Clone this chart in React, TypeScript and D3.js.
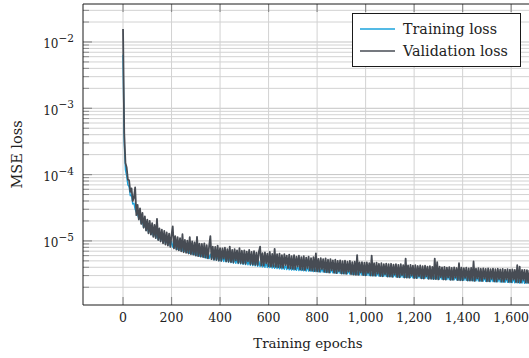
import * as d3 from 'd3';

// losses, in units of 1e-6, one value every 5 epochs
const lossUnit = 1e-6;
const epochStep = 5;

const validationLoss = [
    15700, 420, 150, 128, 84, 82, 55, 62, 40, 45,
    64, 24.5, 35, 21, 31, 18, 26.5, 15.8, 23.5, 14.3,
    21, 13, 20, 12.4, 18.6, 11.5, 17.5, 11, 21.5, 10.3,
    15.5, 9.8, 14.8, 9.2, 14.2, 8.8, 13.4, 8.5, 12.9, 8.1,
    12.4, 16.5, 7.7, 11.8, 7.4, 11.4, 7.2, 11, 6.95, 12.6,
    6.75, 10.4, 6.6, 10.1, 6.45, 11.4, 6.3, 9.8, 6.2, 9.5,
    6, 11.5, 5.9, 9.1, 5.8, 9, 5.7, 9.2, 5.6, 8.6,
    5.45, 8.4, 11.8, 5.3, 8.2, 5.2, 8.1, 5.15, 8.5, 5.05,
    7.8, 5, 7.7, 5.4, 7.9, 4.9, 7.5, 4.85, 8.2, 4.8,
    7.3, 4.72, 7.5, 5.1, 7.2, 4.65, 7.8, 4.6, 7.1, 4.55,
    7.2, 4.5, 6.9, 4.9, 7.3, 4.45, 6.8, 4.4, 7, 4.35,
    6.65, 4.3, 6.9, 8.2, 4.25, 6.55, 4.22, 6.7, 4.6, 6.45,
    4.14, 6.8, 4.1, 6.35, 4.08, 7.6, 4.05, 6.3, 4, 6.45,
    3.96, 6.1, 3.93, 6.3, 4.3, 6, 3.88, 6.2, 3.83, 5.9,
    3.77, 6.1, 3.74, 5.8, 4.1, 6, 3.7, 5.7, 3.66, 5.9,
    3.63, 5.6, 3.9, 5.8, 3.58, 5.5, 3.55, 5.7, 3.5, 6.5,
    3.48, 5.35, 3.45, 5.5, 3.75, 5.3, 3.4, 5.45, 3.37, 5.2,
    3.33, 5.3, 3.6, 5.1, 3.3, 5.2, 3.27, 5, 3.5, 5.1,
    3.22, 4.95, 3.2, 5.05, 3.18, 4.85, 3.45, 5, 3.14, 4.8,
    3.1, 4.85, 3.08, 6.1, 3.07, 4.75, 3.35, 4.8, 3.05, 4.7,
    3.03, 4.75, 3.3, 4.62, 3.01, 6, 2.99, 4.6, 2.98, 4.7,
    3.2, 4.52, 2.95, 4.6, 2.93, 4.48, 3.15, 4.55, 2.9, 4.45,
    2.89, 4.52, 2.87, 4.4, 3.1, 4.48, 2.85, 4.36, 2.83, 4.45,
    3.05, 4.3, 2.8, 5.4, 2.79, 4.28, 2.78, 4.35, 3, 4.25,
    2.75, 4.3, 2.74, 4.18, 2.95, 4.26, 2.72, 4.15, 2.7, 4.22,
    2.92, 4.1, 2.68, 4.17, 2.67, 4.05, 2.66, 5.4, 2.65, 4.8,
    2.63, 4.08, 2.85, 3.98, 2.62, 4.05, 2.61, 3.95, 2.82, 4.02,
    2.59, 3.92, 2.58, 4, 2.8, 3.9, 2.56, 4.6, 2.55, 3.95,
    2.55, 3.88, 2.76, 3.94, 2.53, 3.85, 2.52, 3.92, 2.51, 4.9,
    2.5, 3.82, 2.72, 3.87, 2.49, 3.8, 2.48, 3.86, 2.7, 3.78,
    2.46, 3.84, 2.45, 3.76, 2.68, 3.82, 2.44, 3.74, 2.43, 3.8,
    2.65, 3.72, 2.42, 3.77, 2.41, 3.7, 2.62, 3.75, 2.4, 3.68,
    2.39, 3.72, 2.6, 3.66, 2.38, 4.3, 2.37, 4.1, 2.36, 3.64,
    2.58, 3.66, 2.35, 3.62, 2.34, 3.64,
];

const trainingLoss = [
    6400, 310, 118, 96, 70, 66, 48, 49, 36, 37,
    30, 27, 25, 22, 22.5, 18.5, 20, 16, 18, 14.5,
    16.5, 13.4, 15.5, 12.5, 14.5, 11.8, 13.6, 11, 12.8, 10.5,
    12.2, 10, 11.6, 9.5, 11, 9.1, 10.5, 8.7, 10.1, 8.4,
    9.8, 8.1, 9.4, 7.8, 9, 7.5, 8.7, 7.3, 8.5, 7.1,
    8.2, 6.9, 8, 6.7, 7.8, 6.5, 7.6, 6.3, 7.4, 6.2,
    7.2, 6, 7, 5.9, 6.9, 5.8, 6.7, 5.6, 6.6, 5.5,
    6.4, 5.4, 6.3, 5.3, 6.2, 5.2, 6.1, 5.1, 6, 5,
    5.9, 4.95, 5.8, 4.9, 5.75, 4.85, 5.7, 4.8, 5.6, 4.7,
    5.5, 4.65, 5.45, 4.6, 5.4, 4.55, 5.35, 4.5, 5.3, 4.45,
    5.2, 4.4, 5.15, 4.35, 5.1, 4.3, 5.05, 4.25, 5, 4.2,
    4.95, 4.15, 4.9, 4.1, 4.85, 4.05, 4.8, 4, 4.75, 3.98,
    4.7, 3.95, 4.65, 3.9, 4.6, 3.87, 4.55, 3.84, 4.5, 3.8,
    4.45, 3.77, 4.4, 3.74, 4.35, 3.7, 4.3, 3.67, 4.25, 3.64,
    4.2, 3.62, 4.17, 3.6, 4.14, 3.58, 4.12, 3.56, 4.1, 3.54,
    4.08, 3.52, 4.06, 3.5, 4.04, 3.48, 4.02, 3.46, 4, 3.44,
    3.98, 3.42, 3.96, 3.4, 3.94, 3.38, 3.92, 3.36, 3.9, 3.34,
    3.88, 3.32, 3.86, 3.3, 3.84, 3.28, 3.82, 3.26, 3.8, 3.24,
    3.78, 3.22, 3.76, 3.2, 3.74, 3.18, 3.72, 3.16, 3.7, 3.14,
    3.68, 3.12, 3.66, 3.1, 3.64, 3.08, 3.62, 3.06, 3.6, 3.04,
    3.58, 3.02, 3.56, 3, 3.54, 2.99, 3.52, 2.98, 3.5, 2.97,
    3.48, 2.96, 3.46, 2.95, 3.44, 2.93, 3.42, 2.92, 3.4, 2.91,
    3.38, 2.9, 3.36, 2.88, 3.34, 2.87, 3.32, 2.86, 3.3, 2.85,
    3.29, 2.83, 3.28, 2.82, 3.26, 2.81, 3.25, 2.8, 3.24, 2.78,
    3.22, 2.77, 3.21, 2.76, 3.2, 2.75, 3.18, 2.73, 3.17, 2.72,
    3.16, 2.71, 3.14, 2.7, 3.13, 2.68, 3.12, 2.67, 3.1, 2.66,
    3.09, 2.65, 3.08, 2.64, 3.06, 2.63, 3.05, 2.62, 3.04, 2.61,
    3.03, 2.6, 3.02, 2.59, 3, 2.58, 2.99, 2.57, 2.98, 2.56,
    2.97, 2.55, 2.96, 2.54, 2.95, 2.53, 2.94, 2.52, 2.93, 2.51,
    2.92, 2.5, 2.91, 2.49, 2.9, 2.48, 2.89, 2.47, 2.88, 2.46,
    2.87, 2.45, 2.86, 2.44, 2.85, 2.43, 2.84, 2.42, 2.83, 2.41,
    2.82, 2.4, 2.81, 2.39, 2.8, 2.38, 2.79, 2.37, 2.78, 2.36,
    2.77, 2.35, 2.76, 2.34, 2.75, 2.33, 2.74, 2.32, 2.73, 2.31,
    2.72, 2.3, 2.71, 2.29, 2.7, 2.28,
];

const xTicks = [0, 200, 400, 600, 800, 1000, 1200, 1400, 1600];
const yDecades = [-2, -3, -4, -5];
const seriesNames = ['Training loss', 'Validation loss'];
const seriesColors = ['#1ba3dc', '#474c54'];

export default function App() {
    const width = 529;
    const height = 358;
    const margin = {top: 4, right: -4, bottom: 53, left: 83};
    const plotRight = width - margin.right;
    const plotBottom = height - margin.bottom;

    const font = "'DejaVu Serif', serif";

    const xScale = d3.scaleLinear()
        .domain([-165, 1690])
        .range([margin.left, plotRight]);

    const yScale = d3.scaleLog()
        .domain([1.08e-6, 3.74e-2])
        .range([plotBottom, margin.top]);

    const toPoints = (arr: number[]) => arr.map((v, i) => [i * epochStep, v * lossUnit] as [number, number]);

    const line = d3.line<[number, number]>()
        .x(d => xScale(d[0]))
        .y(d => yScale(d[1]));

    // minor grid: 2..9 times every decade in range
    const [yLo, yHi] = yScale.domain();
    const minorVals: number[] = [];
    for (let e = -7; e <= -1; e++) {
        for (let m = 2; m <= 9; m++) {
            const v = m * Math.pow(10, e);
            if (v > yLo && v < yHi) minorVals.push(v);
        }
    }

    const gridColor = '#d2d2d2';
    const tickColor = '#8c8c8c';

    return (
        <svg width={width} height={height} style={{position: 'absolute', left: 0, top: 0}}
             fontFamily={font}>
            <rect x={0} y={0} width={width} height={height} fill="white"/>
            <defs>
                <clipPath id="plot-clip">
                    <rect x={margin.left} y={margin.top} width={plotRight - margin.left}
                          height={plotBottom - margin.top}/>
                </clipPath>
            </defs>

            {/* grid */}
            {minorVals.map(v => (
                <line key={'mg' + v} x1={margin.left} x2={plotRight} y1={yScale(v)} y2={yScale(v)}
                      stroke={gridColor} strokeWidth={1}/>
            ))}
            {yDecades.map(e => (
                <line key={'yg' + e} x1={margin.left} x2={plotRight}
                      y1={yScale(Math.pow(10, e))} y2={yScale(Math.pow(10, e))}
                      stroke="#c4c4c4" strokeWidth={1}/>
            ))}
            {xTicks.map(t => (
                <line key={'xg' + t} x1={xScale(t)} x2={xScale(t)} y1={margin.top} y2={plotBottom}
                      stroke={gridColor} strokeWidth={1}/>
            ))}

            {/* ticks */}
            {minorVals.map(v => (
                <line key={'mt' + v} x1={margin.left} x2={margin.left + 6} y1={yScale(v)} y2={yScale(v)}
                      stroke={tickColor} strokeWidth={1}/>
            ))}
            {yDecades.map(e => (
                <line key={'yt' + e} x1={margin.left} x2={margin.left + 9}
                      y1={yScale(Math.pow(10, e))} y2={yScale(Math.pow(10, e))}
                      stroke={tickColor} strokeWidth={1.2}/>
            ))}
            {xTicks.map(t => (
                <g key={'xt' + t}>
                    <line x1={xScale(t)} x2={xScale(t)} y1={plotBottom} y2={plotBottom - 8}
                          stroke={tickColor} strokeWidth={1.2}/>
                    <line x1={xScale(t)} x2={xScale(t)} y1={margin.top} y2={margin.top + 8}
                          stroke={tickColor} strokeWidth={1.2}/>
                </g>
            ))}

            {/* data */}
            <g clipPath="url(#plot-clip)">
                <path d={line(toPoints(trainingLoss)) || ''} fill="none" stroke={seriesColors[0]}
                      strokeWidth={1.4} strokeLinejoin="round"/>
                <path d={line(toPoints(validationLoss)) || ''} fill="none" stroke={seriesColors[1]}
                      strokeWidth={1.8} strokeLinejoin="round"/>
            </g>

            {/* frame */}
            <path d={`M${plotRight},${margin.top}H${margin.left}V${plotBottom}H${plotRight}`}
                  fill="none" stroke="#1a1a1a" strokeWidth={1}/>

            {/* tick labels */}
            {xTicks.map(t => (
                <text key={'xl' + t} x={xScale(t)} y={plotBottom + 17} textAnchor="middle"
                      fontSize={12.5} fill="#222">
                    {d3.format(',')(t)}
                </text>
            ))}
            {yDecades.map(e => (
                <text key={'yl' + e} x={margin.left - 9} y={yScale(Math.pow(10, e)) + 6.4}
                      textAnchor="end" fill="#222" fontSize={12}>
                    10<tspan dy={-6.5} fontSize={10.5}>{'\u2212' + Math.abs(e)}</tspan>
                </text>
            ))}

            {/* axis titles */}
            <text x={(margin.left + plotRight) / 2} y={348} textAnchor="middle" fontSize={13.4} fill="#222">
                Training epochs
            </text>
            <text transform={`translate(22,${(margin.top + plotBottom) / 2}) rotate(-90)`}
                  textAnchor="middle" fontSize={14.5} fill="#222">
                MSE loss
            </text>

            {/* legend */}
            <g>
                <rect x={352.5} y={13.5} width={168} height={53} fill="white" stroke="#1a1a1a" strokeWidth={1}/>
                {seriesNames.map((name, i) => (
                    <g key={name}>
                        <line x1={360} x2={395} y1={29 + i * 22} y2={29 + i * 22}
                              stroke={seriesColors[i]} strokeWidth={1.3}/>
                        <text x={403} y={33.5 + i * 22} fontSize={14.3} fill="#222">{name}</text>
                    </g>
                ))}
            </g>
        </svg>
    );
}
